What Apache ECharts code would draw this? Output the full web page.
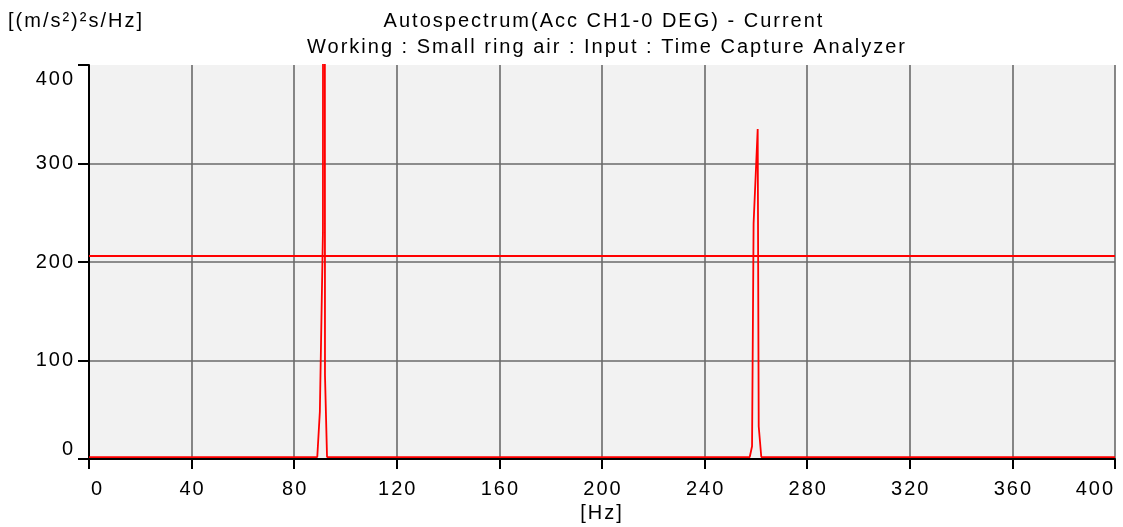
<!DOCTYPE html>
<html>
<head>
<meta charset="utf-8">
<script src="https://cdn.jsdelivr.net/npm/echarts@6/dist/echarts.min.js"></script>
<style>
html,body{margin:0;padding:0;background:#fff;}
#chart{width:1123px;height:527px;}
</style>
</head>
<body>
<div id="chart"></div>
<script>
// Data
var freqHz = [0, 89, 90, 91.2, 91.6, 92.0, 92.8, 257.6, 258.5, 259.1, 260.7, 261.1, 262.1, 400];
var amplitude = [2, 2, 48, 230, 3000, 85, 2, 2, 13, 239, 335, 33, 2, 2];
var cursorLevel = 206;
var xTicks = {min: 0, max: 400, interval: 40};
var yTicks = {min: 0, max: 400, interval: 100};
var titleLine1 = 'Autospectrum(Acc CH1-0 DEG) - Current';
var titleLine2 = 'Working : Small ring air : Input : Time Capture Analyzer';
var yUnit = '[(m/s\u00b2)\u00b2s/Hz]';
var xUnit = '[Hz]';

// The reference text is drawn with wide character spacing.
(function () {
  var proto = CanvasRenderingContext2D.prototype;
  var orig = proto.fillText;
  proto.fillText = function () {
    try { this.letterSpacing = '2px'; } catch (e) {}
    return orig.apply(this, arguments);
  };
})();

var seriesData = freqHz.map(function (f, i) { return [f, amplitude[i]]; });
var FONT = "'Liberation Sans', Arial, sans-serif";
var FONT_CSS = "20px 'Liberation Sans', Arial, sans-serif";

var chart = echarts.init(document.getElementById('chart'), null, {renderer: 'canvas'});
chart.setOption({
  animation: false,
  backgroundColor: '#ffffff',
  graphic: [
    {type: 'text', x: 604, y: 21, z: 10,
     style: {text: titleLine1, font: FONT_CSS, fill: '#000', textAlign: 'center', textVerticalAlign: 'middle'}},
    {type: 'text', x: 607, y: 47, z: 10,
     style: {text: titleLine2, font: FONT_CSS, fill: '#000', textAlign: 'center', textVerticalAlign: 'middle'}},
    {type: 'text', x: 8, y: 21, z: 10,
     style: {text: yUnit, font: FONT_CSS, fill: '#000', textAlign: 'left', textVerticalAlign: 'middle'}}
  ],
  grid: {left: 89, right: 8, top: 65, bottom: 68, show: true, outerBoundsMode: 'none',
         containLabel: false, backgroundColor: '#f2f2f2', borderWidth: 0},
  xAxis: {
    type: 'value', min: xTicks.min, max: xTicks.max, interval: xTicks.interval,
    name: xUnit, nameLocation: 'middle', nameGap: 43,
    nameTextStyle: {fontFamily: FONT, fontSize: 20, color: '#000'},
    axisLine: {show: true, lineStyle: {color: '#000', width: 2}},
    axisTick: {show: true, length: 10, lineStyle: {color: '#000', width: 2}},
    axisLabel: {fontFamily: FONT, fontSize: 20, color: '#000', margin: 20, padding: [0, 0, 0, 2],
                alignMinLabel: 'left', alignMaxLabel: 'right'},
    splitLine: {show: true, showMinLine: false, lineStyle: {color: '#6a6a6a', width: 1.6}}
  },
  yAxis: {
    type: 'value', min: yTicks.min, max: yTicks.max, interval: yTicks.interval,
    axisLine: {show: true, lineStyle: {color: '#000', width: 2}},
    axisTick: {show: true, length: 11, lineStyle: {color: '#000', width: 2}},
    axisLabel: {fontFamily: FONT, fontSize: 20, color: '#000', margin: 14, padding: [4, 0, 0, 0],
                verticalAlignMinLabel: 'bottom', verticalAlignMaxLabel: 'top'},
    splitLine: {show: true, showMinLine: false, showMaxLine: false,
                lineStyle: {color: '#6a6a6a', width: 1.6}}
  },
  series: [{
    type: 'line',
    data: seriesData,
    showSymbol: false,
    clip: true,
    lineStyle: {color: '#ff0000', width: 1.8},
    markLine: {
      silent: true, symbol: 'none', animation: false,
      label: {show: false},
      lineStyle: {color: '#ff0000', width: 2, type: 'solid'},
      data: [{yAxis: cursorLevel}]
    }
  }]
});
</script>
</body>
</html>
